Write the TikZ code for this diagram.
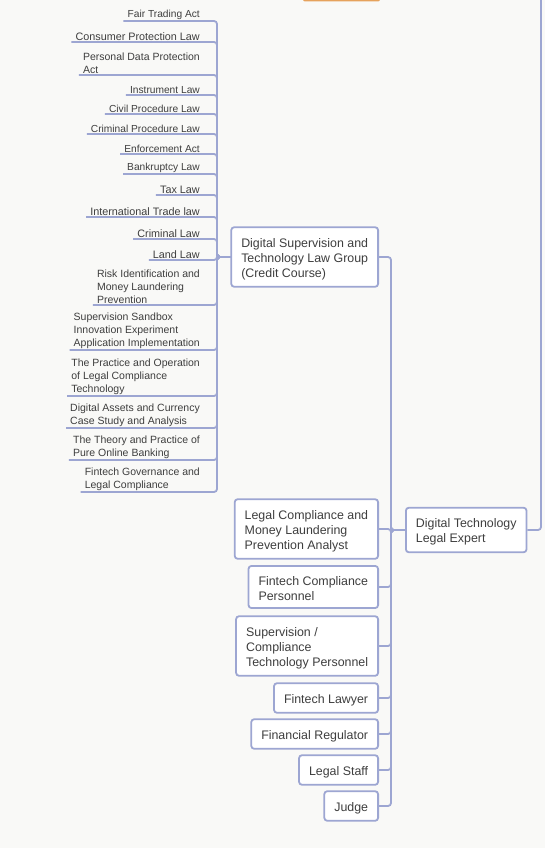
\documentclass[tikz,border=0pt]{standalone}
\usepackage{fontspec}
\setmainfont{Liberation Sans}
\usetikzlibrary{calc,positioning}
\definecolor{linkcol}{RGB}{157,166,210}
\definecolor{txtcol}{RGB}{62,62,62}
\definecolor{bgcol}{RGB}{249,249,247}
\definecolor{topcol}{RGB}{230,162,92}
\newcommand{\tstrut}{\rule{0pt}{13pt}}

\begin{document}
\begin{tikzpicture}[x=1pt,y=-1pt]
    \fill[bgcol] (0,0) rectangle (545,848);
    \useasboundingbox (0,0) rectangle (545,848);

    \tikzstyle{link} = [draw=linkcol, line width=1.8pt, rounded corners=3pt]
    \tikzstyle{tnode} = [draw=linkcol, line width=1.8pt, fill=white, rounded corners=3pt, align=left, inner xsep=10pt, inner ysep=7pt, text=txtcol, font=\fontsize{12.4}{15}\selectfont]
    \tikzstyle{lnode} = [anchor=south east, align=left, inner xsep=4pt, inner ysep=1pt, text=txtcol, font=\fontsize{10.2}{13}\selectfont]
    \tikzstyle{mnode} = [lnode, font=\fontsize{10.5}{13}\selectfont]
    \tikzstyle{bnode} = [lnode, font=\fontsize{10.8}{13}\selectfont]

    % cut off node above
    \fill[topcol, rounded corners=2pt] (303,-10) rectangle (380,1.5);

    \node[tnode, anchor=west] (exp) at (405,530) {\tstrut Digital Technology\\Legal Expert};

    \node[tnode, anchor=east] (dsl) at (379,257) {\tstrut Digital Supervision and\\Technology Law Group\\(Credit Course)};
    \node[tnode, anchor=east] (lca) at (379,529) {\tstrut Legal Compliance and\\Money Laundering\\Prevention Analyst};
    \node[tnode, anchor=east] (fcp) at (379,587) {\tstrut Fintech Compliance\\Personnel};
    \node[tnode, anchor=east] (sct) at (379,646) {\tstrut Supervision /\\Compliance\\Technology Personnel};
    \node[tnode, anchor=east] (fl) at (379,698) {\tstrut Fintech Lawyer};
    \node[tnode, anchor=east] (fr) at (379,734) {\tstrut Financial Regulator};
    \node[tnode, anchor=east] (ls) at (379,770) {\tstrut Legal Staff};
    \node[tnode, anchor=east] (jd) at (379,806) {\tstrut Judge};

    \node[lnode] (f1) at (204,21) {Fair Trading Act};
    \node[bnode] (f2) at (204,42) {Consumer Protection Law};
    \node[mnode] (f3) at (204,75) {Personal Data Protection\\Act};
    \node[lnode] (f4) at (204,95) {Instrument Law};
    \node[lnode] (f5) at (204,114) {Civil Procedure Law};
    \node[lnode] (f6) at (204,134) {Criminal Procedure Law};
    \node[lnode] (f7) at (204,154) {Enforcement Act};
    \node[lnode] (f8) at (204,174) {Bankruptcy Law};
    \node[bnode] (f9) at (204,195) {Tax Law};
    \node[bnode] (f10) at (204,217) {International Trade law};
    \node[bnode] (f11) at (204,239) {Criminal Law};
    \node[bnode] (f12) at (204,260) {Land Law};
    \node[mnode] (f13) at (204,305) {Risk Identification and\\Money Laundering\\Prevention};
    \node[mnode] (f14) at (204,350) {Supervision Sandbox\\Innovation Experiment\\Application Implementation};
    \node[mnode] (f15) at (204,396) {The Practice and Operation\\of Legal Compliance\\Technology};
    \node[mnode] (f16) at (204,428) {Digital Assets and Currency\\Case Study and Analysis};
    \node[mnode] (f17) at (204,460) {The Theory and Practice of\\Pure Online Banking};
    \node[mnode] (f18) at (204,492) {Fintech Governance and\\Legal Compliance};

    \coordinate (up) at (541,-5);

    % edge to parent
    \draw[link] (exp.east) -| (up);

    % edge expert to level1
    \draw[link] (exp.west) -- ++(-14,0) |- (dsl.east);
    \draw[link] (exp.west) -- ++(-14,0) |- (lca.east);
    \draw[link] (exp.west) -- ++(-14,0) |- (fcp.east);
    \draw[link] (exp.west) -- ++(-14,0) |- (sct.east);
    \draw[link] (exp.west) -- ++(-14,0) |- (fl.east);
    \draw[link] (exp.west) -- ++(-14,0) |- (fr.east);
    \draw[link] (exp.west) -- ++(-14,0) |- (ls.east);
    \draw[link] (exp.west) -- ++(-14,0) |- (jd.east);

    % edge level1 to level2
    \draw[link] (f1.south west) -- (f1.south east) -- ++(13,0) |- (dsl.west);
    \draw[link] (f2.south west) -- (f2.south east) -- ++(13,0) |- (dsl.west);
    \draw[link] (f3.south west) -- (f3.south east) -- ++(13,0) |- (dsl.west);
    \draw[link] (f4.south west) -- (f4.south east) -- ++(13,0) |- (dsl.west);
    \draw[link] (f5.south west) -- (f5.south east) -- ++(13,0) |- (dsl.west);
    \draw[link] (f6.south west) -- (f6.south east) -- ++(13,0) |- (dsl.west);
    \draw[link] (f7.south west) -- (f7.south east) -- ++(13,0) |- (dsl.west);
    \draw[link] (f8.south west) -- (f8.south east) -- ++(13,0) |- (dsl.west);
    \draw[link] (f9.south west) -- (f9.south east) -- ++(13,0) |- (dsl.west);
    \draw[link] (f10.south west) -- (f10.south east) -- ++(13,0) |- (dsl.west);
    \draw[link] (f11.south west) -- (f11.south east) -- ++(13,0) |- (dsl.west);
    \draw[link] (f12.south west) -- (f12.south east) -- ++(13,0) |- (dsl.west);
    \draw[link] (f13.south west) -- (f13.south east) -- ++(13,0) |- (dsl.west);
    \draw[link] (f14.south west) -- (f14.south east) -- ++(13,0) |- (dsl.west);
    \draw[link] (f15.south west) -- (f15.south east) -- ++(13,0) |- (dsl.west);
    \draw[link] (f16.south west) -- (f16.south east) -- ++(13,0) |- (dsl.west);
    \draw[link] (f17.south west) -- (f17.south east) -- ++(13,0) |- (dsl.west);
    \draw[link] (f18.south west) -- (f18.south east) -- ++(13,0) |- (dsl.west);
\end{tikzpicture}
\end{document}
